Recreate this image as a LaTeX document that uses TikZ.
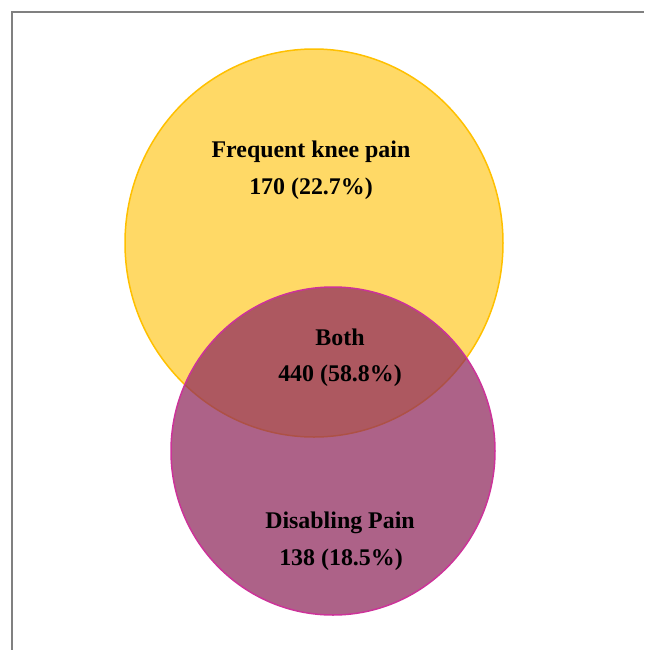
\documentclass[tikz,border=0pt]{standalone}
\usepackage{fontspec}
\setmainfont{Liberation Serif}
\definecolor{kneefill}{RGB}{255,217,102}
\definecolor{kneeline}{RGB}{255,192,0}
\definecolor{disfill}{RGB}{145,43,95}
\definecolor{disline}{RGB}{204,51,153}
\tikzset{
  lbl/.style={font=\fontsize{13.6}{16}\selectfont\bfseries, inner sep=0pt}
}
\begin{document}
\begin{tikzpicture}[x=0.2mm, y=-0.2mm]
     \useasboundingbox (0,0) rectangle (644,650);

     % frame
     \draw[gray, line width=0.45mm] (12,650) -- (12,12) -- (644,12);

     % circles
     \draw[kneeline, line width=0.3mm, fill=kneefill] (314,243) ellipse[x radius=189, y radius=194];
     \draw[disline, line width=0.3mm, fill=disfill, fill opacity=0.74] (333,451) ellipse[x radius=162, y radius=164];

     % Frequent knee pain
     \node[lbl] (freq) at (311,152) {Frequent knee pain};
     \node[lbl] (freqn) at (311,189) {170 (22.7\%)};

     % Both
     \node[lbl] (both) at (340,337) {Both};
     \node[lbl] (bothn) at (340,376) {440 (58.8\%)};

     % Disabling Pain
     \node[lbl] (dis) at (340,523) {Disabling Pain};
     \node[lbl] (disn) at (341,560) {138 (18.5\%)};

\end{tikzpicture}
\end{document}
